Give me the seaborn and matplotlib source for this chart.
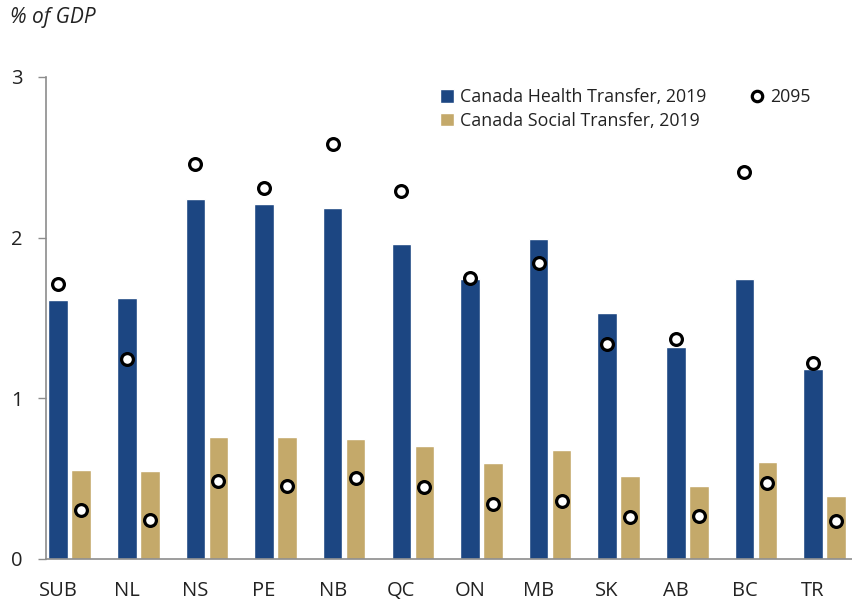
# import libraries
import numpy as np
import pandas as pd
import seaborn as sns
import matplotlib.pyplot as plt
from matplotlib.patches import Patch
from matplotlib.lines import Line2D

# data
regions = ["SUB", "NL", "NS", "PE", "NB", "QC", "ON", "MB", "SK", "AB", "BC", "TR"]
health_2019 = [1.61, 1.625, 2.24, 2.21, 2.185, 1.96, 1.74, 1.99, 1.53, 1.32, 1.74, 1.18]
social_2019 = [0.55, 0.545, 0.76, 0.757, 0.745, 0.70, 0.595, 0.676, 0.514, 0.452, 0.60, 0.39]
health_2095 = [1.71, 1.24, 2.46, 2.31, 2.58, 2.29, 1.745, 1.84, 1.335, 1.37, 2.41, 1.22]
social_2095 = [0.30, 0.24, 0.48, 0.45, 0.50, 0.445, 0.34, 0.36, 0.26, 0.265, 0.47, 0.235]

series_names = ["Canada Health Transfer, 2019", "Canada Social Transfer, 2019"]
navy = "#1c4682"
tan = "#c4a96a"

df = pd.DataFrame({
    "region": regions * 2,
    "value": health_2019 + social_2019,
    "series": [series_names[0]] * len(regions) + [series_names[1]] * len(regions),
})

sns.set_theme(style="white")
plt.rcParams["font.family"] = ["Open Sans", "DejaVu Sans"]

fig = plt.figure(figsize=(8.52, 6.04), dpi=100)
ax = fig.add_axes([46 / 852, 45.5 / 604, 1 - 46 / 852, 481.5 / 604])

bar_width = 0.67
sns.barplot(data=df, x="region", y="value", hue="series", palette=[navy, tan],
            saturation=1, width=bar_width, gap=0.15, legend=False, ax=ax)

# 2095 circles on top of each bar
off = bar_width / 4
pos = np.arange(len(regions))
circle_style = dict(marker="o", linestyle="none", markersize=8.5, markeredgewidth=2.3,
                    markerfacecolor="white", markeredgecolor="black", zorder=5)
ax.plot(pos - off, health_2095, **circle_style)
ax.plot(pos + off, social_2095, **circle_style)

ax.set_xlim(-0.345, 11.40)
ax.set_ylim(0, 3)
ax.set_yticks([0, 1, 2, 3])
ax.set_xticks(pos - off)
ax.set_xticklabels(regions)
ax.set_xlabel("")
ax.set_ylabel("")

for s in ["top", "right"]:
    ax.spines[s].set_visible(False)
for s in ["left", "bottom"]:
    ax.spines[s].set_color("#8c8c8c")
    ax.spines[s].set_linewidth(1.2)
ax.tick_params(axis="y", left=True, length=6, width=1, color="#8c8c8c",
               labelsize=14.5, pad=11, labelcolor="#222222")
ax.tick_params(axis="x", bottom=False, labelsize=14.5, pad=10, labelcolor="#222222")

fig.text(10 / 852, 1 - 17 / 604, "% of GDP", fontsize=15, style="italic",
         color="#222222", va="center", ha="left")

handles = [
    Patch(facecolor=navy, label=series_names[0]),
    Patch(facecolor=tan, label=series_names[1]),
    Line2D([], [], marker="o", linestyle="none", markersize=7.5, markeredgewidth=2.3,
           markerfacecolor="white", markeredgecolor="black", label="2095"),
]
ax.legend(handles=handles, ncol=2, frameon=False, fontsize=12.8,
          loc="upper left", bbox_to_anchor=(440 / 852, 1 - 88 / 604),
          bbox_transform=fig.transFigure, handlelength=0.8, handleheight=0.8,
          handletextpad=0.3, columnspacing=2.5, labelspacing=0.33,
          borderaxespad=0, borderpad=0, labelcolor="#222222")

fig.savefig("out.png", dpi=100)
